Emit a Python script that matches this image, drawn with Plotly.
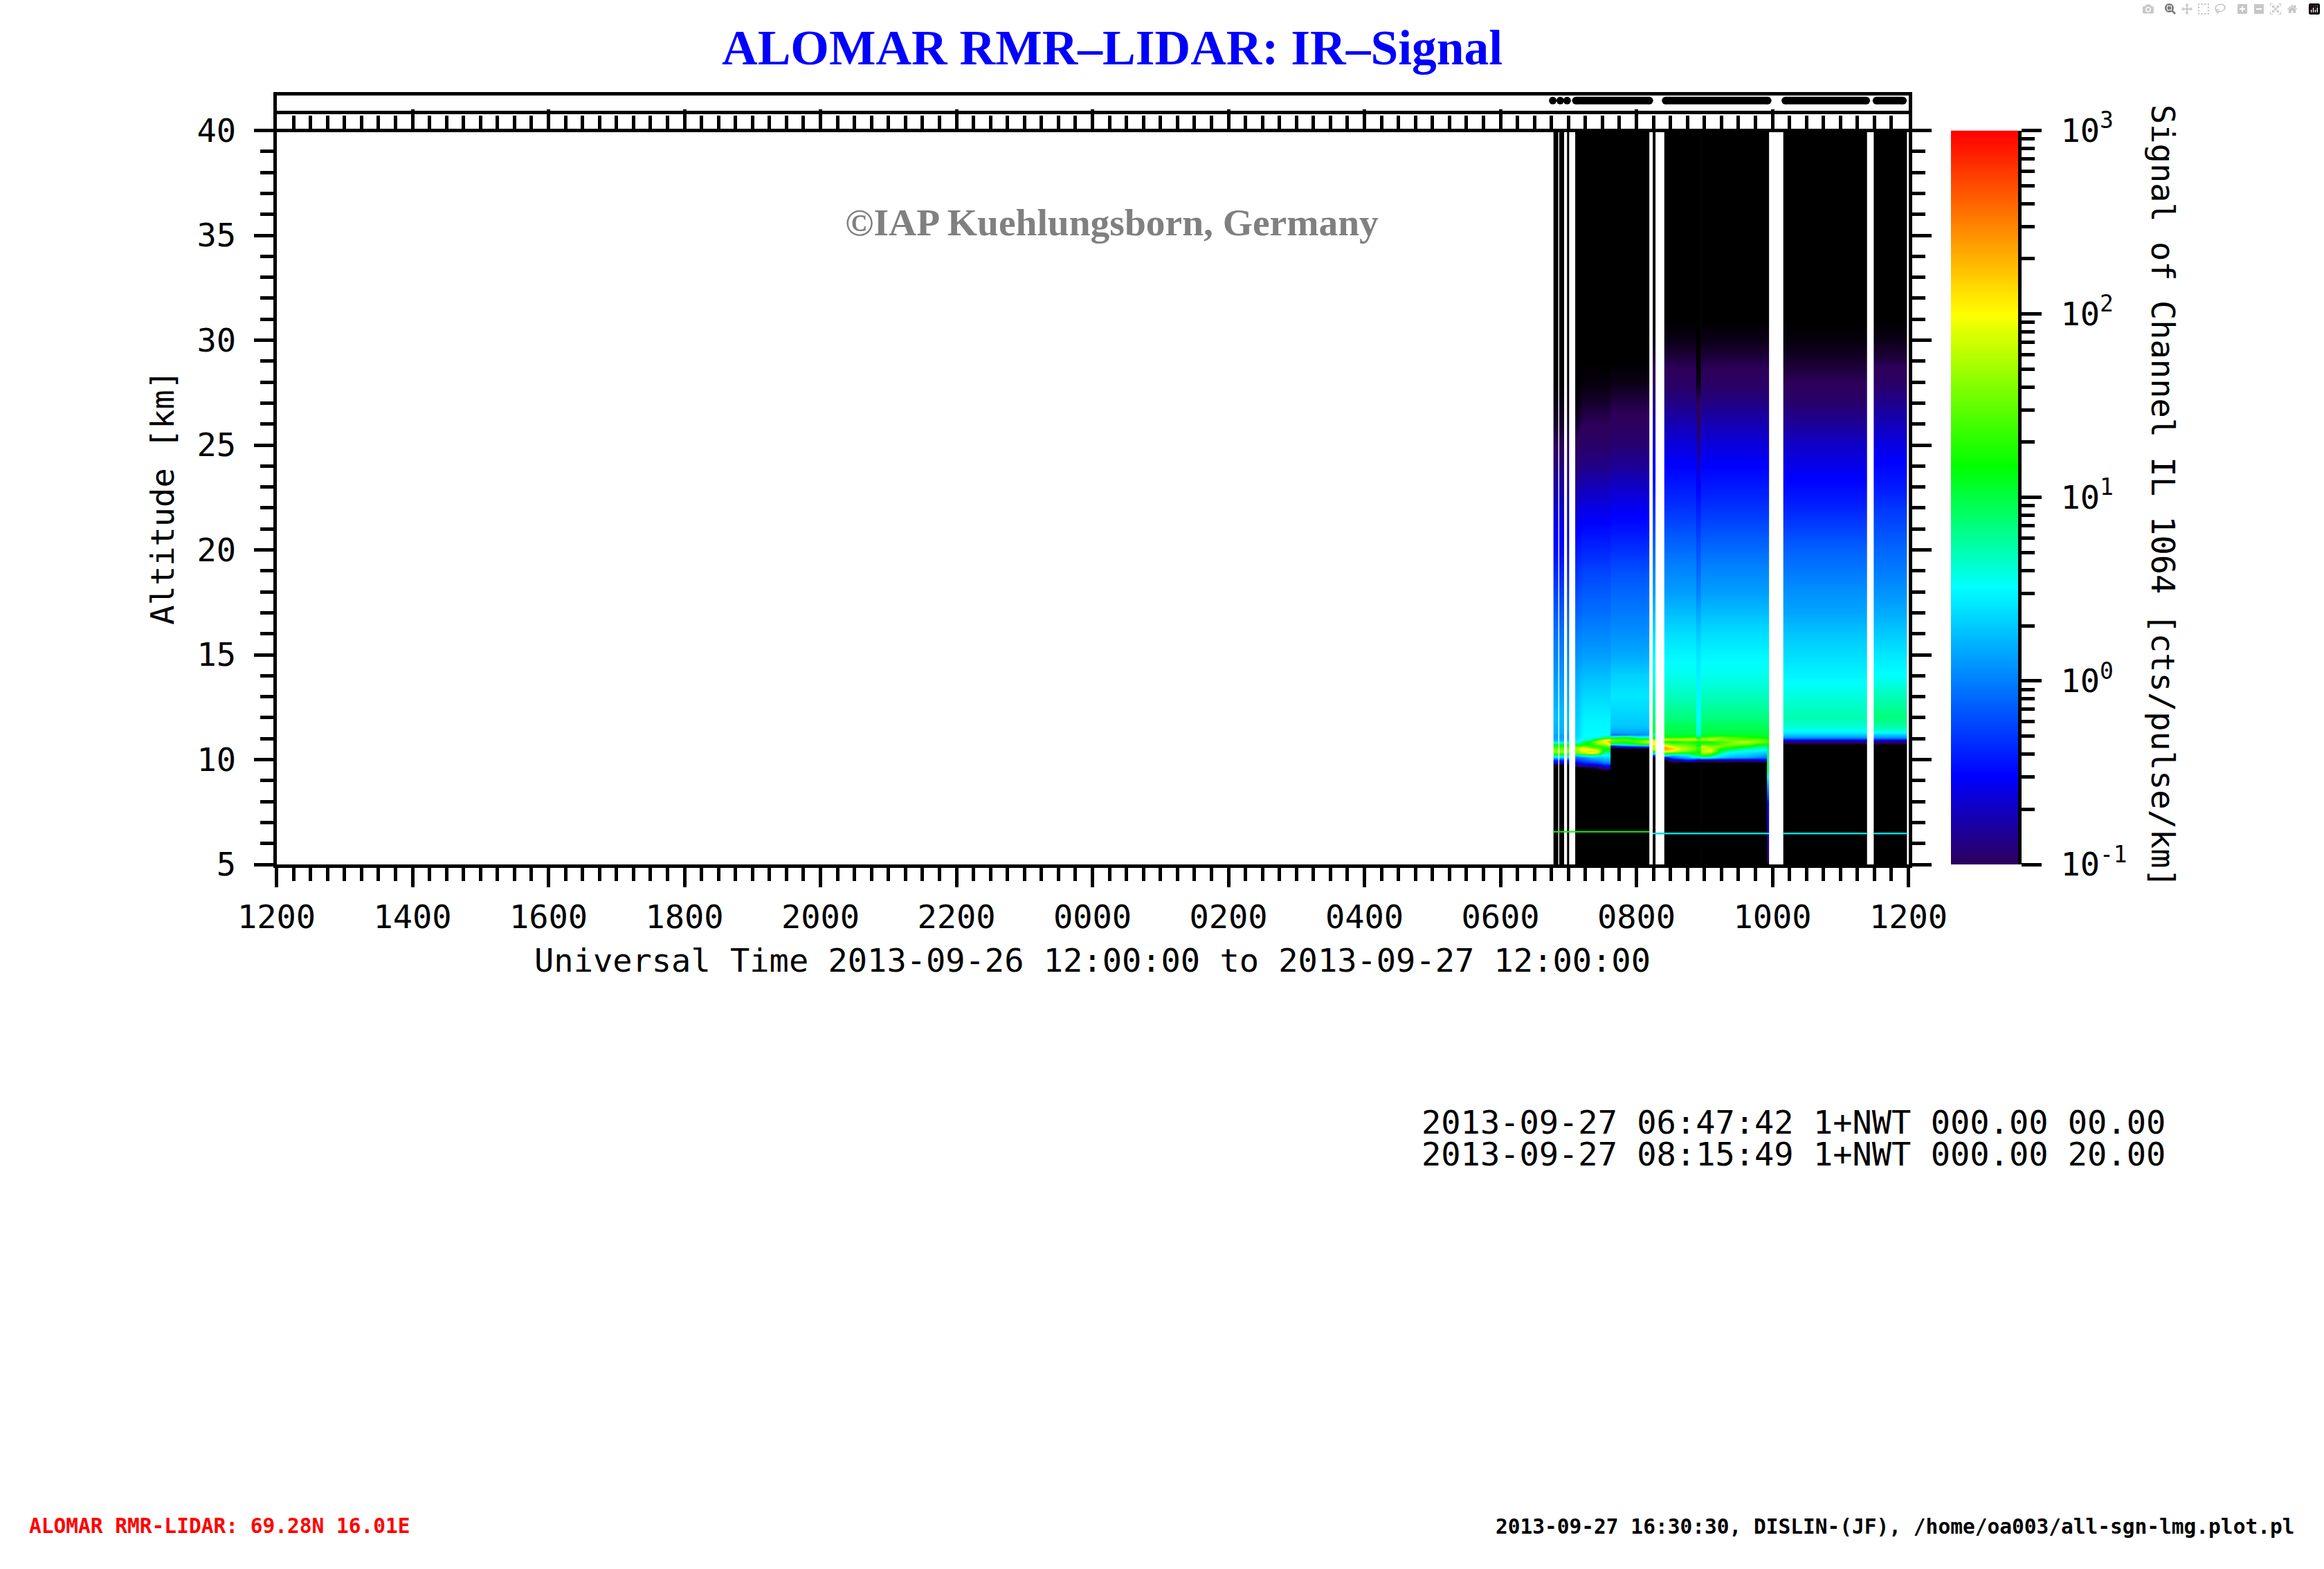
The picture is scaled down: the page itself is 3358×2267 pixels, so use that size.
import plotly.graph_objects as go

W, H = 3358, 2267
FONT = "DejaVu Sans Mono"

# ---------- data ----------
HOUR_TICKS = [0, 2, 4, 6, 8, 10, 12, 14, 16, 18, 20, 22, 24]   # hours after 12:00 UT
HOUR_LABELS = ["1200", "1400", "1600", "1800", "2000", "2200", "0000",
               "0200", "0400", "0600", "0800", "1000", "1200"]
ALT_TICKS = [5, 10, 15, 20, 25, 30, 35, 40]
CB_TICKS = [0.1, 1, 10, 100, 1000]
CB_LABELS = ["10<sup>-1</sup>", "10<sup>0</sup>", "10<sup>1</sup>", "10<sup>2</sup>", "10<sup>3</sup>"]

ALT_LOW = [5, 8.0, 8.15, 9.0, 9.5]
ALT_CLOUD = [11.18, 11.07, 10.96, 10.85, 10.74, 10.63, 10.52, 10.41, 10.30, 10.20, 10.09, 9.98, 9.87, 9.76, 9.65]
ALT_UPPER = [11.3, 11.6, 12, 13, 14, 15, 16, 17, 18, 19, 20, 21, 22, 23, 24, 25, 26, 27, 28, 29, 30, 31, 32, 40]

NONE = -1.04   # below the colour range: drawn black

# log10(signal) above the cloud, per block, at ALT_UPPER (32 and 40 km are always empty)
UP_STRIP = [.2, .22, .25, .17, .1, .02, -.05, -.15, -.25, -.37, -.47, -.55, -.65, -.78, -.9, -1.0, -1.02, -1.03, NONE, NONE, NONE, NONE]
UP_A0 = [.35, .33, .3, .25, .17, .08, -.02, -.12, -.22, -.32, -.42, -.54, -.66, -.8, -.92, -.99, -1.02, -1.035, NONE, NONE, NONE, NONE]
UP_A = [.5, .48, .46, .36, .25, .12, .03, -.07, -.15, -.25, -.37, -.48, -.6, -.72, -.87, -.96, -1.0, -1.02, -1.035, NONE, NONE, NONE]
UP_B = [.15, .28, .33, .42, .33, .17, .07, -.02, -.1, -.2, -.33, -.45, -.56, -.68, -.82, -.93, -.99, -1.01, -1.03, NONE, NONE, NONE]
UP_C = [1.0, .95, .85, .68, .56, .48, .38, .25, .12, .03, -.08, -.2, -.32, -.42, -.52, -.62, -.74, -.88, -.98, -1.01, -1.03, NONE]
UP_STREAK = [.6, .55, .5, .48, .46, .42, .3, .15, 0, -.1, -.2, -.3, -.42, -.52, -.65, -.8, -.95, -1.0, -1.03, NONE, NONE, NONE]
UP_D = [.45, .62, .72, .6, .47, .38, .28, .15, .07, -.03, -.12, -.25, -.38, -.48, -.58, -.68, -.82, -.95, -1.0, -1.02, -1.035, NONE]
UP_E = [.5, .75, .85, .7, .52, .42, .3, .18, .08, -.02, -.1, -.2, -.3, -.42, -.5, -.6, -.72, -.85, -.97, -1.01, -1.03, NONE]

# log10(signal) in the cloud layer, per time column, at ALT_CLOUD (lower rows left out = no signal)
CLOUD_STRIP = [.15, .15, .2, .35, 1.1, 1.3, 1.5, 1.7, 1.4, .8, .3, -.4, -.5]
CLOUD_A = [
    [.35, .38, .42, .5, 1.0, 1.5, 1.7, 1.6, 1.5, .3, -.1, -.3, -.5, -.9],
    [.5, .5, .55, .9, 1.1, 1.6, 2.1, 2.0, 1.6, .6, .0, -.15, -.4, -.6],
    [.5, .5, .75, 1.3, 1.2, 1.3, 1.8, 2.2, 1.9, .7, .2, -.05, -.25, -.6, -1.02],
    [.5, .55, 1.3, 1.9, 1.5, 1.2, 1.5, 2.1, 1.6, .5, .25, .05, -.2, -.5, -1.0],
    [.5, .8, 1.8, 2.0, 1.7, 1.3, 1.2, 1.0, .7, .5, .3, .15, 0, -.35, -.8],
    [.55, 1.0, 2.0, 2.3, 2.0, 1.5, 1.1, .9, .6, .5, .35, .2, .05, -.3, -.7],
]
CLOUD_B = [
    [-.1, .9, 1.5, 1.5, .6, -.9],
    [-.1, 1.2, 1.45, 1.3, .7, -.5],
    [0, 1.1, 1.4, 1.3, .9, -.4],
    [0, .7, 1.3, 1.6, 1.1, -.3],
    [.1, .7, 1.4, 1.9, 1.2, -.2],
]
CLOUD_GAP = [.6, 1.0, 1.8, 2.0, 2.0, 1.8, 1.9, 1.3, .6, -.4]
CLOUD_C1 = [
    [1.05, 1.3, 1.9, 1.2, 1.7, 2.2, 2.4, 2.0, 1.2, .55, -.6],
    [1.0, 1.3, 1.9, 1.1, 1.5, 1.9, 2.2, 1.9, 1.0, .2, -.1, -.9],
    [1.0, 1.3, 1.9, 1.2, 1.5, 1.7, 1.8, 1.7, .9, .35, .1, -.8],
    [1.0, 1.35, 1.9, 1.3, 1.45, 1.6, 1.7, 1.5, 1.0, .4, .2, -.5],
    [1.0, 1.4, 1.9, 1.2, 1.3, 1.5, 1.6, 1.3, 1.2, .8, .4, -.7],
]
CLOUD_STREAK = [.6, 1.0, 1.7, 1.1, 1.1, 1.3, 1.35, 1.2, 1.2, .9, .4, -.9]
CLOUD_C2 = [
    [1.0, 1.4, 1.8, 1.1, 1.4, 1.9, 1.7, 1.9, 1.6, 1.2, .6, -.9],
    [1.05, 1.5, 1.9, 1.2, 1.3, 1.7, 1.9, 1.9, 1.5, 1.0, .5, -.95],
    [1.05, 1.6, 1.7, 1.3, 1.4, 1.6, 1.3, 1.1, .8, .5, .3, -.9],
    [1.05, 1.45, 1.6, 1.5, 1.6, 1.4, 1.1, .7, .45, .35, .2, -.9],
    [1.05, 1.4, 1.5, 1.7, 1.6, 1.2, .9, .6, .4, .3, .15, -.9],
    [1.05, 1.3, 1.45, 1.8, 1.5, 1.1, .8, .5, .35, .3, .1, -.85],
    [1.05, 1.2, 1.5, 1.7, 1.2, .9, .7, .45, .3, .2, 0, -.8],
    [1.05, 1.15, 1.4, 1.5, 1.1, .8, .6, .4, .25, .1, -.05, -.7],
]
CLOUD_TAIL = [1.05, 1.1, 1.3, 1.4, 1.2, 1.0, .9, .9, .9, .9, .9, .9, .9, .9, .9]
LOW_TAIL = [NONE, -.5, -.3, .3, .9]
CLOUD_CLEAR = [.3, .08, -.4, -.95]

# time edges (hours after 12:00 UT) of each recorded block
T_S1 = [18.78, 18.815, 18.85]
T_S2 = [18.865, 18.90, 18.94]
T_S3 = [18.98, 18.995, 19.01]
T_S4 = [19.10, 19.17, 19.27, 19.38, 19.48, 19.57, 19.63]
T_S5 = [19.62, 19.70, 19.83, 19.97, 20.10, 20.19]
T_S6 = [20.24, 20.26, 20.28]
T_S7 = [20.41, 20.48, 20.59, 20.69, 20.80, 20.89]
T_S8 = [20.88, 20.915, 20.955]
T_S9 = [20.95, 21.03, 21.15, 21.29, 21.43, 21.56, 21.70, 21.85, 21.925]
T_S10 = [21.92, 21.935, 21.95]
T_S11 = [22.16, 22.8, 23.39]
T_S12 = [23.49, 23.75, 23.98]

# detector artefact line near 6.5 km
ARTEFACT_T1 = [18.78, 20.19]
ARTEFACT_A1 = [6.56, 6.56]
ARTEFACT_T2 = [20.24, 21.95, None, 22.16, 23.39, None, 23.49, 23.98]
ARTEFACT_A2 = [6.48, 6.48, None, 6.48, 6.48, None, 6.48, 6.48]

# shot markers in the top strip
SHOT_T = [18.77, None, 18.88, None, 18.98, None, 19.11, 20.19, None, 20.43, 21.93, None, 22.19, 23.38, None, 23.53, 23.92]
SHOT_Y = [1, None, 1, None, 1, None, 1, 1, None, 1, 1, None, 1, 1, None, 1, 1]

# colour ramp: log10(signal) at each colour stop of the bar
RAMP_Z = [-1, -.52, 0, .51, .84, 1.17, 1.6, 2, 2.5, 3]
RAMP_C = ["rgb(45,0,90)", "rgb(0,0,255)", "rgb(0,128,255)", "rgb(0,255,255)", "rgb(0,255,128)",
          "rgb(0,255,0)", "rgb(128,255,0)", "rgb(255,255,0)", "rgb(255,128,0)", "rgb(255,0,0)"]


def column(cloud, upper, low=None):
    low = low if low else [NONE] * len(ALT_LOW)
    full = list(cloud) + [NONE] * (len(ALT_CLOUD) - len(cloud))
    return low + full[::-1] + list(upper) + [NONE, NONE]


ALTS = ALT_LOW + ALT_CLOUD[::-1] + ALT_UPPER
SEGMENTS = [
    (T_S1, [column(CLOUD_STRIP, UP_STRIP)] * 2),
    (T_S2, [column(CLOUD_STRIP, UP_STRIP)] * 2),
    (T_S3, [column(CLOUD_STRIP, UP_STRIP)] * 2),
    (T_S4, [column(CLOUD_A[0], UP_A0)] + [column(c, UP_A) for c in CLOUD_A[1:]]),
    (T_S5, [column(c, UP_B) for c in CLOUD_B]),
    (T_S6, [column(CLOUD_GAP, UP_C)] * 2),
    (T_S7, [column(c, UP_C) for c in CLOUD_C1]),
    (T_S8, [column(CLOUD_STREAK, UP_STREAK)] * 2),
    (T_S9, [column(c, UP_C) for c in CLOUD_C2]),
    (T_S10, [column(CLOUD_TAIL, UP_C, LOW_TAIL)] * 2),
    (T_S11, [column(CLOUD_CLEAR, UP_D)] * 2),
    (T_S12, [column(CLOUD_CLEAR, UP_E)] * 2),
]

# ---------- layout helpers ----------
LW = 5
L, R, T, B = 399.5, 2757.5, 188.5, 1249
BAND_T = 137.5
CB_L, CB_R = 2819, 2916
dx = lambda p: p / W
dy = lambda p: 1 - p / H

zmin, zmax = NONE, 3
norm = lambda z: (z - zmin) / (zmax - zmin)
main_scale = [[0, "rgb(0,0,0)"]] + [[norm(z), c] for z, c in zip(RAMP_Z, RAMP_C)]
bar_scale = [[(z + 1) / 4, c] for z, c in zip(RAMP_Z, RAMP_C)]

fig = go.Figure()
for edges, cols in SEGMENTS:
    fig.add_trace(go.Heatmap(
        x=edges, y=ALTS, z=[list(r) for r in zip(*cols)],
        zmin=zmin, zmax=zmax, colorscale=main_scale, zsmooth="best",
        showscale=False, hoverinfo="skip"))

fig.add_trace(go.Scatter(x=ARTEFACT_T1, y=ARTEFACT_A1, mode="lines",
                         line=dict(color="rgb(0,255,0)", width=2), showlegend=False))
fig.add_trace(go.Scatter(x=ARTEFACT_T2, y=ARTEFACT_A2, mode="lines",
                         line=dict(color="rgb(0,220,220)", width=2.5), showlegend=False))

fig.add_trace(go.Scatter(x=SHOT_T, y=SHOT_Y, xaxis="x2", yaxis="y2", mode="lines+markers",
                         line=dict(color="black", width=11), marker=dict(color="black", size=11),
                         showlegend=False))

fig.add_trace(go.Heatmap(
    x=[0, 1], y=[10 ** z for z in RAMP_Z], z=[[z, z] for z in RAMP_Z],
    xaxis="x3", yaxis="y3", zmin=-1, zmax=3, colorscale=bar_scale, zsmooth="best",
    showscale=False, hoverinfo="skip"))

axfont = dict(family=FONT, size=47, color="black")


def note(text, px, py, font, **kw):
    return dict(text=text, x=dx(px), y=dy(py), xref="paper", yref="paper", xanchor="center",
                yanchor="middle", showarrow=False, font=font, **kw)


fig.update_layout(
    template="none",
    width=W, height=H, margin=dict(l=0, r=0, t=0, b=0), autosize=False,
    paper_bgcolor="white", plot_bgcolor="white", showlegend=False,
    font=axfont,
    xaxis=dict(domain=[dx(L), dx(R)], range=[0, 24], anchor="y", automargin=False,
               tickmode="array", tickvals=HOUR_TICKS, ticktext=HOUR_LABELS, tickangle=0,
               ticks="outside", ticklen=28, tickwidth=LW, tickcolor="black", tickfont=axfont,
               ticklabelstandoff=3,
               showline=True, linewidth=LW, linecolor="black", showgrid=False, zeroline=False,
               minor=dict(ticks="outside", ticklen=19, tickwidth=LW, tickcolor="black",
                          tickmode="linear", tick0=0, dtick=0.25, showgrid=False),
               title=dict(text="Universal Time 2013-09-26 12:00:00 to 2013-09-27 12:00:00",
                          font=axfont, standoff=21)),
    yaxis=dict(domain=[dy(B), dy(T)], range=[5, 40], anchor="x", automargin=False,
               tickmode="array", tickvals=ALT_TICKS,
               ticks="outside", ticklen=28, tickwidth=LW, tickcolor="black", tickfont=axfont,
               ticklabelstandoff=16,
               showline=True, linewidth=LW, linecolor="black", mirror="ticks", showgrid=False, zeroline=False,
               minor=dict(ticks="outside", ticklen=19, tickwidth=LW, tickcolor="black",
                          tickmode="linear", tick0=0, dtick=1, showgrid=False),
               title=dict(text="Altitude [km]", font=axfont, standoff=20)),
    xaxis2=dict(domain=[dx(L), dx(R)], range=[0, 24], anchor="y2", automargin=False,
                tickmode="array", tickvals=HOUR_TICKS, showticklabels=False,
                ticks="inside", ticklen=28, tickwidth=LW, tickcolor="black",
                showline=True, linewidth=LW, linecolor="black", mirror=True, showgrid=False, zeroline=False,
                minor=dict(ticks="inside", ticklen=19, tickwidth=LW, tickcolor="black",
                           tickmode="linear", tick0=0, dtick=0.25, showgrid=False)),
    yaxis2=dict(domain=[dy(T - 2.5), dy(BAND_T)], range=[-1.35, 1.45], anchor="x2", automargin=False,
                tickmode="array", tickvals=[0], showticklabels=False, ticks="",
                showgrid=True, gridcolor="black", gridwidth=LW, zeroline=False,
                showline=True, linewidth=LW, linecolor="black", mirror=True),
    xaxis3=dict(domain=[dx(CB_L), dx(CB_R)], range=[0, 1], anchor="y3", automargin=False,
                showticklabels=False, ticks="", showline=False, showgrid=False, zeroline=False),
    yaxis3=dict(domain=[dy(B), dy(T)], type="log", range=[-1, 3], anchor="x3", side="right", automargin=False,
                tickmode="array", tickvals=CB_TICKS, ticktext=CB_LABELS,
                ticks="outside", ticklen=29, tickwidth=LW, tickcolor="black", tickfont=axfont,
                ticklabelstandoff=18,
                showline=True, linewidth=LW, linecolor="black", showgrid=False, zeroline=False,
                minor=dict(ticks="outside", ticklen=19, tickwidth=LW, tickcolor="black",
                           dtick="D1", showgrid=False)),
    annotations=[
        note("ALOMAR RMR\u2013LIDAR: IR\u2013Signal", 1607, 68,
             dict(family="Liberation Serif", size=71.5, color="rgb(0,0,255)", weight="bold")),
        note("\u00a9IAP Kuehlungsborn, Germany", 1606, 321,
             dict(family="Liberation Serif", size=55.5, color="rgb(128,128,128)", weight="bold")),
        note("Signal of Channel IL 1064 [cts/pulse/km]", 3125, 717, axfont, textangle=90),
        note("2013-09-27 06:47:42 1+NWT 000.00 00.00", 2591, 1621, axfont),
        note("2013-09-27 08:15:49 1+NWT 000.00 20.00", 2591, 1667, axfont),
        note("ALOMAR RMR-LIDAR: 69.28N 16.01E", 317, 2205,
             dict(family=FONT, size=29.5, color="rgb(255,0,0)", weight="bold")),
        note("2013-09-27 16:30:30, DISLIN-(JF), /home/oa003/all-sgn-lmg.plot.pl", 2738, 2206,
             dict(family=FONT, size=29.5, color="black", weight="bold")),
    ],
)

fig.write_html("out.html", post_script="document.body.style.margin='0';")
